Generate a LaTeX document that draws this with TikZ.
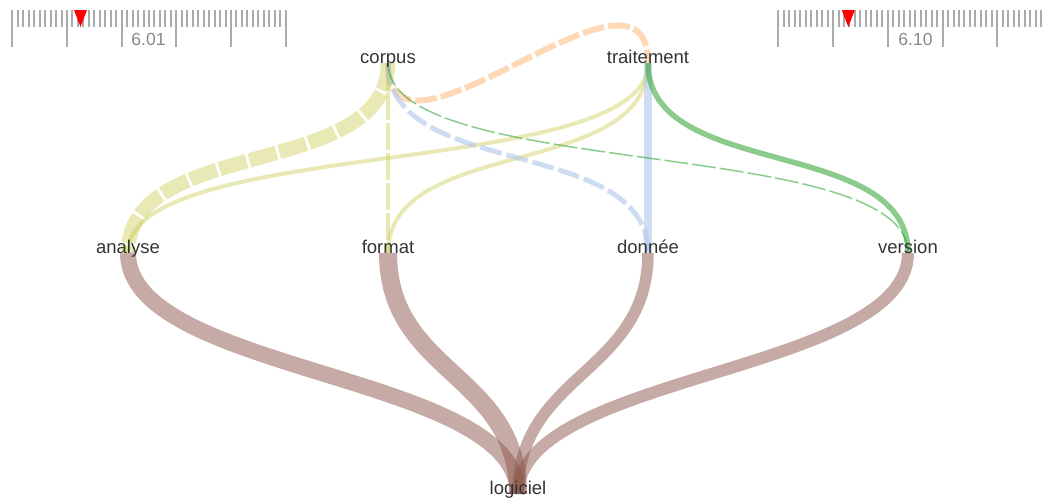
\documentclass[tikz,border=0pt]{standalone}
\usepackage{fontspec}
\setmainfont{Liberation Sans}
\pgfdeclarelayer{bg}
\pgfsetlayers{bg,main}
\definecolor{brn}{HTML}{8C564B}
\definecolor{olv}{HTML}{BCBD22}
\definecolor{org}{HTML}{FF7F0E}
\definecolor{blu}{HTML}{AEC7E8}
\definecolor{grn}{HTML}{2CA02C}
\definecolor{txt}{HTML}{333333}
\definecolor{tickc}{HTML}{ABABAB}
\definecolor{lblc}{HTML}{888888}
\tikzset{
  word/.style={anchor=base, inner sep=0pt, text=txt, font=\fontsize{18.5}{22}\selectfont},
  rulerlabel/.style={anchor=base, inner sep=0pt, text=lblc, font=\fontsize{17.5}{20}\selectfont},
  tickline/.style={draw=tickc, line width=2pt},
  marker/.style={fill=red, draw=none},
  link/.style={line cap=butt},
  brownlink/.style={link, draw=brn, draw opacity=0.5},
  olivelink/.style={link, draw=olv, draw opacity=0.33},
  orangelink/.style={link, draw=org, draw opacity=0.3},
  bluelink/.style={link, draw=blu, draw opacity=0.6},
  greenlink/.style={link, draw=grn, draw opacity=0.55},
}
\begin{document}
\begin{tikzpicture}[x=1pt, y=-1pt]
\useasboundingbox (0,0) rectangle (1046,501);
% rulers
\foreach \i in {0,...,50} {
  \pgfmathsetmacro\xx{round(12.3+5.468*\i)}
  \pgfmathsetmacro\yy{mod(\i,10)==0 ? 47 : 27}
  \draw[tickline] (\xx,10) -- (\xx,\yy);
}
\foreach \i in {0,...,48} {
  \pgfmathsetmacro\xx{round(778.3+5.475*\i)}
  \pgfmathsetmacro\yy{mod(\i,10)==0 ? 47 : 27}
  \draw[tickline] (\xx,10) -- (\xx,\yy);
}
\node[rulerlabel] (lab1) at (148.5,45) {6.01};
\node[rulerlabel] (lab2) at (915.5,45) {6.10};
\fill[marker] (74,10) -- (87,10) -- (80.5,27) -- cycle;
\fill[marker] (841.8,10) -- (854.8,10) -- (848.3,27) -- cycle;

% nodes
\node[word] (corpus) at (388,63) {corpus};
\node[word] (traitement) at (648,63) {traitement};
\node[word] (analyse) at (128,253) {analyse};
\node[word] (format) at (388,253) {format};
\node[word] (donnee) at (648,253) {donnée};
\node[word] (version) at (908,253) {version};
\node[word] (logiciel) at (518,494) {logiciel};

\begin{pgfonlayer}{bg}
% corpus -> traitement
\draw[orangelink, line width=6pt, dash pattern=on 22pt off 4pt]
  (corpus.base) .. controls +(0,130) and +(0,-130) .. (traitement.base);
% corpus -> analyse
\draw[olivelink, line width=14.5pt, dash pattern=on 28pt off 3pt]
  (corpus.base) .. controls +(0,118) and +(0,-118) .. (analyse.base);
% traitement -> analyse
\draw[olivelink, line width=4pt]
  (traitement.base) .. controls +(0,118) and +(0,-118) .. (analyse.base);
% corpus -> format
\draw[olivelink, line width=4pt, dash pattern=on 27pt off 3pt]
  (corpus.base) -- (format.base);
% traitement -> format
\draw[olivelink, line width=4pt]
  (traitement.base) .. controls +(0,118) and +(0,-118) .. (format.base);
% corpus -> donnee
\draw[bluelink, line width=5pt, dash pattern=on 22pt off 5pt]
  (corpus.base) .. controls +(0,118) and +(0,-118) .. (donnee.base);
% traitement -> donnee
\draw[bluelink, line width=8.5pt]
  (traitement.base) -- (donnee.base);
% corpus -> version
\draw[greenlink, line width=1.5pt, dash pattern=on 24pt off 4pt]
  (corpus.base) .. controls +(0,118) and +(0,-118) .. (version.base);
% traitement -> version
\draw[greenlink, line width=5.5pt]
  (traitement.base) .. controls +(0,118) and +(0,-118) .. (version.base);
% to logiciel
\draw[brownlink, line width=16pt]
  (analyse.base) .. controls +(0,120.5) and +(0,-120.5) .. (logiciel.base);
\draw[brownlink, line width=18pt]
  (format.base) .. controls +(0,120.5) and +(0,-120.5) .. (logiciel.base);
\draw[brownlink, line width=11.5pt]
  (donnee.base) .. controls +(0,120.5) and +(0,-120.5) .. (logiciel.base);
\draw[brownlink, line width=12pt]
  (version.base) .. controls +(0,120.5) and +(0,-120.5) .. (logiciel.base);
\end{pgfonlayer}
\end{tikzpicture}
\end{document}
